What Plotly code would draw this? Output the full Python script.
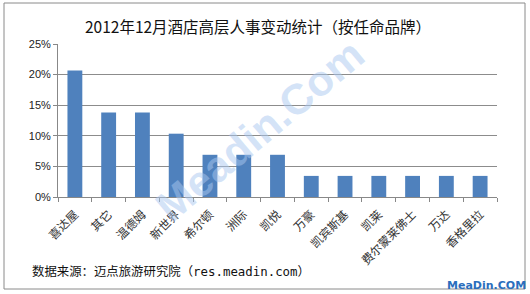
import plotly.graph_objects as go

brands = ["喜达屋", "其它", "温德姆", "新世界", "希尔顿", "洲际", "凯悦", "万豪",
          "凯宾斯基", "凯莱", "费尔蒙莱佛士", "万达", "香格里拉"]
counts = [6, 4, 4, 3, 2, 2, 2, 1, 1, 1, 1, 1, 1]
total = sum(counts)
shares = [c / total for c in counts]
y_ticks = [0, 0.05, 0.10, 0.15, 0.20, 0.25]
y_tick_text = ["0%", "5%", "10%", "15%", "20%", "25%"]

title_text = "2012年12月酒店高层人事变动统计（按任命品牌）"
source_text = "数据来源：迈点旅游研究院（res.meadin.com）"

W, H = 530, 294
L, R, T, B = 58, 33, 44, 97
pw, ph = W - L - R, H - T - B

def px(x):
    return (x - L) / pw

def py(y):
    return (H - B - y) / ph

fig = go.Figure(go.Bar(
    x=brands, y=shares, marker=dict(color="#4f81bd", line=dict(width=0)),
))

fig.update_layout(
    width=W, height=H,
    margin=dict(l=L, r=R, t=T, b=B),
    paper_bgcolor="white", plot_bgcolor="white",
    bargap=0.56,
    showlegend=False,
    font=dict(family="Noto Sans CJK SC, sans-serif", color="#222"),
    xaxis=dict(
        tickangle=-45, tickfont=dict(size=11.8, color="#333"),
        showline=True, linecolor="#888", linewidth=1,
        ticks="outside", ticklen=4, tickcolor="#888", tickson="boundaries",
        ticklabelstandoff=5,
        showgrid=False,
    ),
    yaxis=dict(
        range=[0, 0.25], tickvals=y_ticks, ticktext=y_tick_text,
        tickfont=dict(size=11, family="Liberation Sans, Arial", color="#222"),
        showgrid=True, gridcolor="#8c8c8c", gridwidth=1,
        showline=True, linecolor="#888", linewidth=1,
        ticks="outside", ticklen=4, tickcolor="#888",
        zeroline=False,
    ),
    shapes=[dict(type="rect", xref="paper", yref="paper",
                 x0=px(4), x1=px(525), y0=py(289), y1=py(3),
                 line=dict(color="#8a8a8a", width=1), fillcolor="rgba(0,0,0,0)",
                 layer="below")],
    annotations=[
        dict(text=title_text, xref="paper", yref="paper", x=px(258), y=py(26),
             xanchor="center", yanchor="middle", showarrow=False,
             font=dict(size=15.5, color="#111", family="Noto Sans CJK SC")),
        dict(text=source_text, xref="paper", yref="paper", x=px(30), y=py(271),
             xanchor="left", yanchor="middle", showarrow=False,
             font=dict(size=12.4, color="#111", family="DejaVu Sans Mono, Noto Sans CJK SC")),
        dict(text="<b>MeaDin.COM</b>", xref="paper", yref="paper", x=px(528), y=py(285),
             xanchor="right", yanchor="middle", showarrow=False,
             font=dict(size=11, color="#2a6ebd", family="DejaVu Sans, Arial")),
        dict(text="<b>Meadin.Com</b>", xref="paper", yref="paper", x=px(260), y=py(130),
             xanchor="center", yanchor="middle", showarrow=False, textangle=-40,
             font=dict(size=43, color="rgba(170,200,240,0.5)", family="Liberation Sans, Arial")),
    ],
)

fig.write_html("out.html")
